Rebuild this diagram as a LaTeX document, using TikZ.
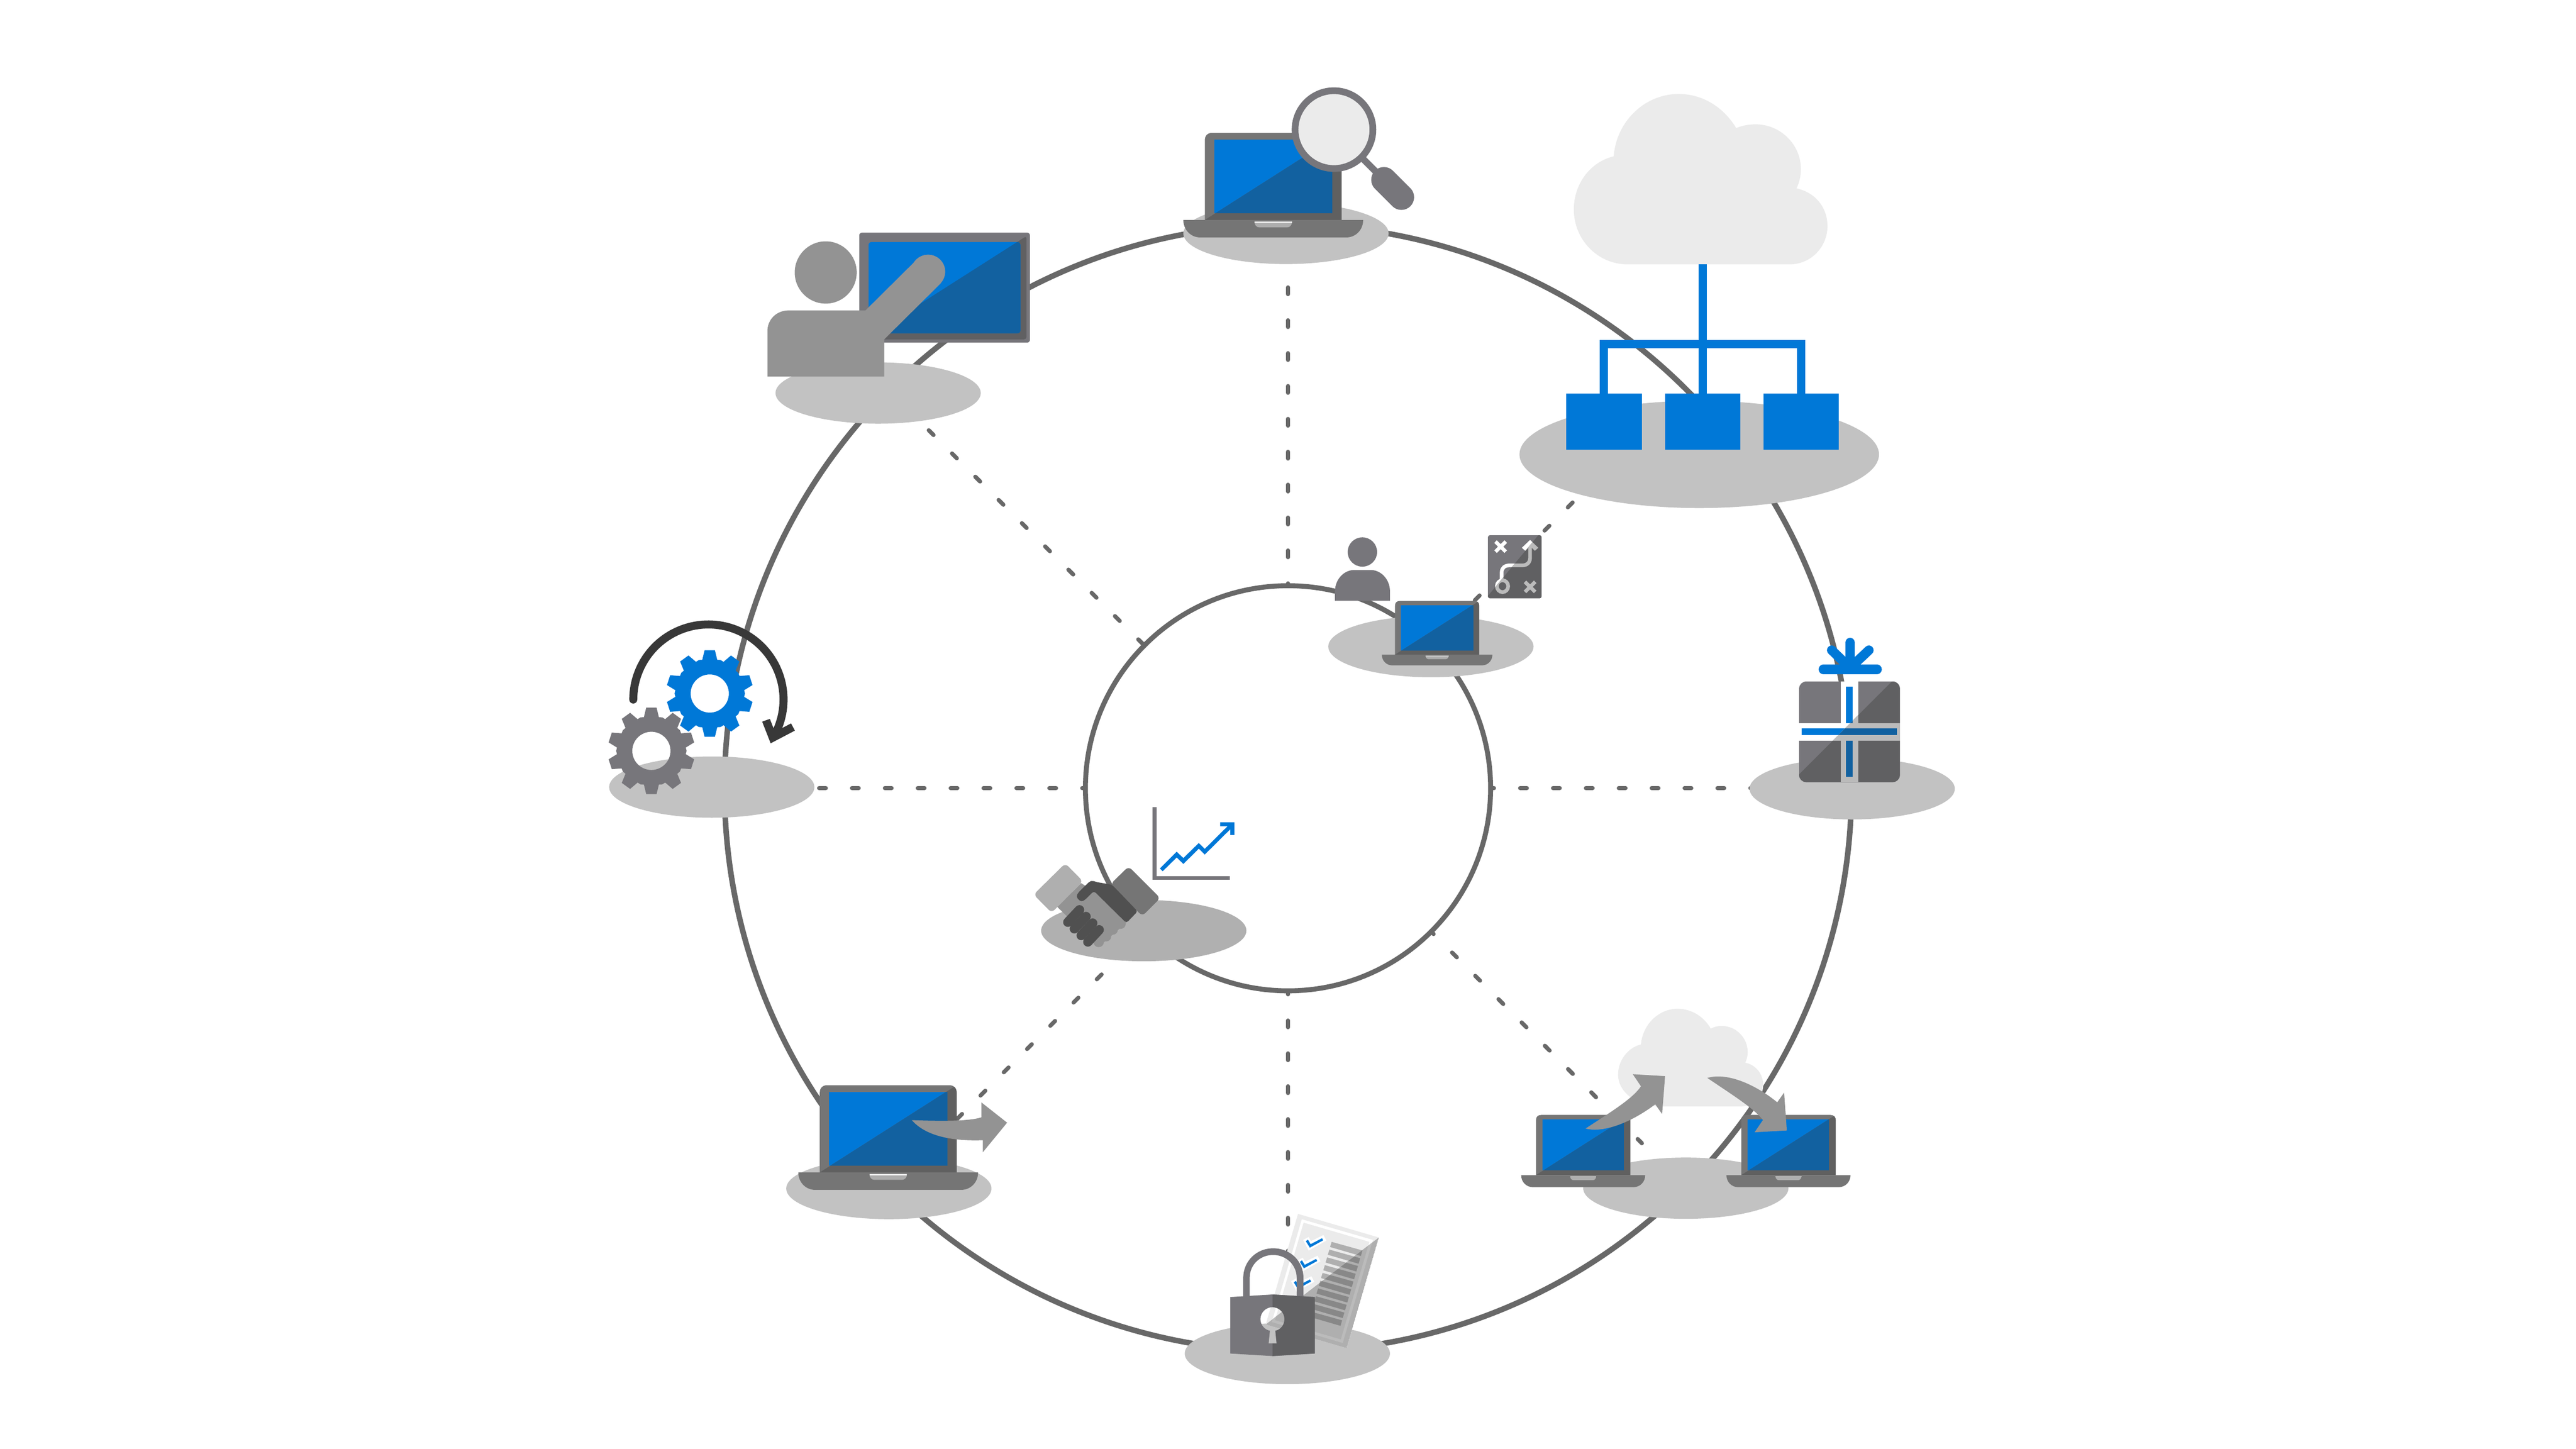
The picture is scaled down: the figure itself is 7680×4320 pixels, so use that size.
\documentclass[tikz,border=0pt]{standalone}
\usetikzlibrary{shapes.geometric}
\definecolor{ringc}{HTML}{686868}
\definecolor{disc}{HTML}{C2C2C2}
\definecolor{discd}{HTML}{B0B0B0}
\definecolor{msblue}{HTML}{0078D7}
\definecolor{msdblue}{HTML}{1261A0}
\definecolor{frameL}{HTML}{757575}
\definecolor{frameD}{HTML}{606060}
\definecolor{iconL}{HTML}{77767B}
\definecolor{iconD}{HTML}{606062}
\definecolor{pale}{HTML}{EBEBEB}
\definecolor{midg}{HTML}{939393}
\definecolor{softg}{HTML}{AFAFAF}
\definecolor{softd}{HTML}{BBBBBB}
\definecolor{barD}{HTML}{888888}
\definecolor{handD}{HTML}{505050}
\definecolor{notch}{HTML}{ADADAD}
\definecolor{arrowk}{HTML}{383838}
\tikzset{
  zm/.style n args={4}{shift={(#1,#2)},x=#3/1568*0.28453pt,y=-#4/1568*0.28453pt},
  discnode/.style={ellipse,fill=disc,draw=none,inner sep=0pt,minimum width=174.1pt,minimum height=52pt},
  ringline/.style={draw=ringc},
  dashline/.style={draw=ringc,line width=3.5pt,line cap=round,dash pattern=on 5.7pt off 22.2pt},
  dashcut/.style={dashline,dash phase=2.85pt},
}
% laptop: origin at the hinge centre; #1,#2 position, #3 xscale, #4 yscale
\newcommand{\lap}[4]{%
\begin{scope}[shift={(#1,#2)},xscale=#3,yscale=#4]
  \def\lapframe{(-204,0)--(-204,-238) .. controls (-204,-252) and (-195,-260) .. (-182,-260) -- (182,-260) .. controls (195,-260) and (204,-252) .. (204,-238) -- (204,0) -- cycle}
  \fill[frameL] \lapframe;
  \fill[msblue] (-176,-240) rectangle (176,-20);
  \begin{scope}
    \clip (-204,0) -- (204,-260) -- (204,0) -- cycle;
    \fill[frameD] \lapframe;
    \fill[msdblue] (-176,-240) rectangle (176,-20);
  \end{scope}
  \fill[frameL] (-268,0) -- (268,0) .. controls (268,30) and (245,52) .. (218,52) -- (-218,52) .. controls (-245,52) and (-268,30) .. (-268,0) -- cycle;
  \fill[notch] (-56,5) -- (56,5) .. controls (56,14) and (50,22) .. (42,22) -- (-42,22) .. controls (-50,22) and (-56,14) .. (-56,5) -- cycle;
  \fill[pale] (-56,5) rectangle (56,8.5);
\end{scope}}
\newcommand{\gearicon}[3]{%
\begin{scope}[shift={(#1,#2)}]
  \fill[#3,even odd rule] ({18-12.5}:103)
    \foreach \a in {18,54,...,342} { -- ({\a-12.5}:103) -- ({\a-6.8}:130) -- ({\a+6.8}:130) -- ({\a+12.5}:103) -- ({\a+18}:105) }
    -- cycle (0,0) circle[radius=57];
\end{scope}}
\newcommand{\giftart}[3]{%
  \fill[#1,rounded corners=6pt] (447,476) rectangle (1075,1260);
  \fill[#2] (707,476) rectangle (815,1260);
  \fill[#2] (447,800) rectangle (1075,936);
  \fill[#3] (740,517) rectangle (782,800);
  \fill[#3] (740,936) rectangle (782,1218);
  \fill[#3] (464,841) rectangle (1058,894);}
\newcommand{\mapart}[2]{%
  \fill[#1,rounded corners=1.6pt] (1051,138) rectangle (1364,702);
  \draw[#2,line width=3.1pt] (1095,195) -- (1155,285) (1155,195) -- (1095,285);
  \draw[#2,line width=3.1pt] (1267,555) -- (1327,645) (1327,555) -- (1267,645);
  \draw[#2,line width=3.1pt] (1136,594) ellipse[x radius=33,y radius=53];
  \draw[#2,line width=3.1pt] (1131,530) -- (1131,470) .. controls (1131,430) and (1150,408) .. (1175,408) -- (1250,408) .. controls (1280,408) and (1297,380) .. (1297,340) -- (1297,220);
  \fill[#2] (1297,180) -- (1345,250) -- (1325,277) -- (1297,235) -- (1269,277) -- (1249,250) -- cycle;}
\newcommand{\paperart}[4]{%
  \fill[#1] (773,182) -- (1277,366) -- (1076,1228) -- (572,1044) -- cycle;
  \fill[#2] (797,224) -- (1240,385) -- (1052,1188) -- (610,1025) -- cycle;
  \fill[#3] (808,250) -- (1218,400) -- (1040,1160) -- (630,1010) -- cycle;
  \foreach \k in {0,...,9} {
    \fill[#4] ({983-14.1*\k},{400+60.5*\k}) -- ({1175-14.1*\k},{467+60.5*\k}) -- ({1165-14.1*\k},{510+60.5*\k}) -- ({973-14.1*\k},{440+60.5*\k}) -- cycle;
  }}
\newcommand{\tickmark}[2]{%
\begin{scope}[shift={(#1,#2)}]
  \fill[white] (805,385) -- (840,362) -- (853,395) -- (932,347) -- (950,390) -- (840,468) -- cycle;
  \fill[msblue] (822,395) -- (835,383) -- (852,418) -- (923,372) -- (930,388) -- (847,445) -- cycle;
\end{scope}}
\begin{document}
\begin{tikzpicture}[x=0.28453pt,y=-0.28453pt]
\useasboundingbox (0,0) rectangle (7680,4320);
\fill[white] (0,0) rectangle (7680,4320);

% rings
\draw[ringline,line width=4.7pt] (3840,2350) circle[radius=1680];
\draw[ringline,line width=4.2pt] (3840,2350.5) circle[radius=604];

% end points of the spokes
\coordinate (wA) at (2442,2350);  \coordinate (wB) at (3236,2350);
\coordinate (eA) at (4444,2350);  \coordinate (eB) at (5240,2350);
\coordinate (nA) at (3840,857);   \coordinate (nB) at (3840,1745);
\coordinate (sA) at (3840,2955);  \coordinate (sB) at (3840,3760);
\coordinate (nwA) at (2769,1283); \coordinate (nwB) at (3408,1921);
\coordinate (seA) at (4267,2778); \coordinate (seB) at (4895,3409);
\coordinate (swA) at (2854,3336); \coordinate (swB) at (3290,2900);
\coordinate (neA) at (4397,1790); \coordinate (neB) at (4695,1492);
\draw[dashline] (wA) -- (wB);
\draw[dashcut] (eA) -- (eB);
\draw[dashline] (nA) -- (nB);
\draw[dashcut] (sA) -- (sB);
\draw[dashline] (nwA) -- (nwB);
\draw[dashcut] (seA) -- (seB);
\draw[dashline] (swA) -- (swB);
\draw[dashline] (neA) -- (neB);

% discs
\node[discnode] (dTop) at (3834,696) {};
\node[discnode] (dNW) at (2618,1172) {};
\node[discnode] (dW) at (2122,2347) {};
\node[discnode] (dE) at (5522,2352) {};
\node[discnode] (dSE) at (5026,3543) {};
\node[discnode] (dS) at (3838,4036) {};
\node[discnode] (dSW) at (2650,3544) {};
\node[discnode] (dIn) at (4266,1928) {};
\node[discnode,fill=discd] (dHand) at (3410,2775) {};
\node[discnode,minimum width=305pt,minimum height=91pt] (dBig) at (5066,1355) {};

% top laptop and magnifier
\lap{3796}{656}{1}{1}
\draw[iconL,line width=5.7pt] (4040,450) -- (4126,536);
\draw[iconL,line width=21.6pt,line cap=round] (4126,536) -- (4178,588);
\draw[iconL,fill=pale,line width=5.7pt] (3977,386.5) circle[radius=116];

% presenter
\begin{scope}[zm={2200}{650}{950}{650}]
  \fill[iconL,rounded corners=2.5pt] (597,105) rectangle (1437,897);
  \fill[iconD,rounded corners=2pt] (1420,130) -- (1420,873) -- (623,873) -- cycle;
  \fill[msblue,rounded corners=2.5pt] (643,173) rectangle (1390,830);
  \begin{scope}
    \clip (1420,130) -- (1420,873) -- (623,873) -- cycle;
    \fill[msdblue,rounded corners=2.5pt] (643,173) rectangle (1390,830);
  \end{scope}
  \fill[midg] (432,392) ellipse[x radius=152.5,y radius=224];
  \fill[midg] (145,1140) -- (145,815) .. controls (145,730) and (190,665) .. (250,665) -- (628,665) -- (883,295) -- (998,470) -- (720,873) -- (720,1140) -- cycle;
  \fill[midg] (936,386) ellipse[x radius=84,y radius=122];
\end{scope}

% gears and rotation arrow
\gearicon{2116}{2068}{msblue}
\gearicon{1942}{2239}{iconL}
\draw[arrowk,line width=6.8pt,line cap=round] plot[domain=180:384,samples=80] ({2112+224*cos(\x)},{2086+224*sin(\x)});
\begin{scope}[zm={1750}{1800}{750}{700}]
  \fill[arrowk] (1092,788) -- (1140,770) -- (1162,830) -- (1215,832) -- (1272,800) -- (1296,848) -- (1145,933) -- cycle;
\end{scope}

% inner person, laptop, map
\begin{scope}[zm={3900}{1550}{800}{522.67}]
  \fill[iconL] (317,288) ellipse[x radius=86,y radius=131];
  \fill[iconL] (157,725) -- (157,630) .. controls (160,530) and (210,449) .. (270,449) -- (365,449) .. controls (425,449) and (475,530) .. (478,630) -- (478,725) -- cycle;
  \mapart{iconL}{white}
  \begin{scope}
    \clip (1400,37) -- (1500,37) -- (1500,800) -- (1030,800) -- (1030,719) -- cycle;
    \mapart{iconD}{softd}
  \end{scope}
\end{scope}
\lap{4284.5}{1952}{0.615}{0.615}

% chart and handshake
\begin{scope}[zm={3000}{2350}{800}{550}]
  \fill[iconL] (855,160) rectangle (878,780);
  \fill[iconL] (855,747) rectangle (1305,780);
  \fill[msblue] (898,683) -- (996,541) -- (1035,595) -- (1125,467) -- (1160,517) -- (1293,325) -- (1250,325) -- (1250,291) -- (1333,291) -- (1333,398) -- (1309,398) -- (1309,350) -- (1160,565) -- (1125,515) -- (1035,645) -- (996,590) -- (914,707) -- cycle;
  % hand
  \fill[midg] (437,808) -- (512,875) -- (702,1145) -- (540,1350) -- (298,1010) -- cycle;
  \fill[midg] (668,1155) ellipse[x radius=30,y radius=42];
  \fill[midg] (622,1205) ellipse[x radius=30,y radius=42];
  \fill[midg] (583,1262) ellipse[x radius=30,y radius=42];
  \fill[midg] (540,1310) ellipse[x radius=30,y radius=42];
  % cuffs
  \fill[softg,rounded corners=3.5pt] (345,640) -- (448,792) -- (265,1060) -- (160,905) -- cycle;
  \fill[frameL,rounded corners=3.5pt] (715,666) -- (610,815) -- (795,1088) -- (900,935) -- cycle;
  % dark hand
  \fill[handD,rounded corners=2pt] (618,822) -- (520,797) -- (505,785) -- (486,795) -- (420,890) -- (408,925) -- (437,968) -- (460,950) -- (512,875) -- (702,1147) -- (768,1048) -- cycle;
  \foreach \xa/\ya/\xb/\yb in {428/1035/360/1140,466/1092/398/1196,505/1148/438/1253,543/1205/477/1308} {
    \draw[handD,line width=8pt,line cap=round] (\xa,\ya) -- (\xb,\yb);
  }
\end{scope}

% gift
\begin{scope}[zm={5150}{1850}{750}{600}]
  \draw[msblue,line width=8pt,line cap=round] (650,232) -- (765,370);
  \draw[msblue,line width=8pt,line cap=round] (882,232) -- (765,370);
  \draw[msblue,line width=8pt,line cap=round] (765,172) -- (765,370);
  \draw[msblue,line width=8pt,line cap=round] (598,381) -- (933,381);
  \giftart{iconL}{white}{msblue}
  \begin{scope}
    \clip (1100,382) -- (1200,382) -- (1200,1300) -- (400,1300) -- (400,1259) -- cycle;
    \giftart{iconD}{softd}{msdblue}
  \end{scope}
\end{scope}

% two laptops and cloud
\begin{scope}[zm={4450}{2950}{1150}{700}]
  \fill[pale] (680,782) -- (1010,782) .. controls (1060,782) and (1100,720) .. (1100,640) .. controls (1100,565) and (1070,505) .. (1027,490) .. controls (1033,470) and (1037,445) .. (1037,420) .. controls (1037,325) and (990,245) .. (932,245) .. controls (915,245) and (900,250) .. (887,263) .. controls (860,185) and (810,130) .. (752,130) .. controls (675,130) and (610,235) .. (603,368) .. controls (550,390) and (510,475) .. (510,570) .. controls (510,685) and (585,782) .. (680,782) -- cycle;
\end{scope}
\lap{4720}{3504}{0.69}{0.69}
\lap{5332}{3504}{0.69}{0.69}
\begin{scope}[zm={4450}{2950}{1150}{700}]
  \fill[midg] (378,930) .. controls (480,820) and (570,730) .. (603,648) -- (570,567) -- (701,580) -- (689,833) -- (661,768) .. controls (580,870) and (460,965) .. (378,930) -- cycle;
  \fill[midg] (873,592) .. controls (960,550) and (1080,650) .. (1157,755) -- (1185,690) -- (1196,943) -- (1065,955) -- (1099,873) .. controls (1060,790) and (960,690) .. (873,592) -- cycle;
\end{scope}

% paper and lock
\begin{scope}[zm={3500}{3550}{750}{600}]
  \paperart{pale}{white}{pale}{softg}
  \tickmark{0}{0}
  \tickmark{-37}{161}
  \tickmark{-75}{321}
  \begin{scope}
    \clip (1277,366) -- (1076,1228) -- (572,1044) -- cycle;
    \paperart{softg}{softd}{softg}{barD}
  \end{scope}
  \fill[iconL] (432,830) -- (432,680) .. controls (432,550) and (515,450) .. (618,450) .. controls (725,450) and (807,550) .. (807,680) -- (807,830) -- (765,830) -- (765,680) .. controls (765,580) and (700,502) .. (618,502) .. controls (535,502) and (472,580) .. (472,680) -- (472,830) -- cycle;
  \def\lockbody{(351,830) -- (615,810) -- (878,830) -- (878,1270) -- (615,1290) -- (351,1270) -- cycle (614,909) .. controls (655,909) and (689,950) .. (689,1002) .. controls (689,1048) and (665,1085) .. (632,1093) -- (640,1192) -- (590,1192) -- (598,1093) .. controls (565,1085) and (539,1048) .. (539,1002) .. controls (539,950) and (573,909) .. (614,909) -- cycle}
  \fill[iconL,even odd rule] \lockbody;
  \begin{scope}
    \clip (615,780) rectangle (900,1300);
    \fill[iconD,even odd rule] \lockbody;
  \end{scope}
\end{scope}

% lower-left laptop and arrow
\lap{2648}{3496}{1}{1}
\begin{scope}[zm={2300}{3150}{800}{522.67}]
  \fill[midg] (820,570) .. controls (950,578) and (1150,585) .. (1227,545) -- (1227,412) -- (1377,593) -- (1235,858) -- (1235,750) .. controls (1050,760) and (900,710) .. (820,570) -- cycle;
\end{scope}

% big cloud and hierarchy
\begin{scope}[zm={4500}{220}{1150}{1350}]
  \fill[pale] (480,660) -- (1140,660) .. controls (1225,660) and (1293,600) .. (1293,528) .. controls (1293,460) and (1240,410) .. (1167,397) .. controls (1178,378) and (1185,355) .. (1185,330) .. controls (1185,245) and (1102,175) .. (1000,175) .. controls (972,175) and (945,180) .. (922,188) .. controls (870,115) and (785,70) .. (688,70) .. controls (550,70) and (435,165) .. (424,286) .. controls (330,305) and (262,380) .. (262,470) .. controls (262,575) and (360,660) .. (480,660) -- cycle;
  \fill[msblue] (769,660) rectangle (802,1107);
  \fill[msblue] (368,922) rectangle (1203,950);
  \fill[msblue] (368,922) rectangle (401,1107);
  \fill[msblue] (1170,922) rectangle (1203,1107);
  \fill[msblue] (232,1107) rectangle (538,1302);
  \fill[msblue] (633,1107) rectangle (938,1302);
  \fill[msblue] (1034,1107) rectangle (1339,1302);
\end{scope}
\end{tikzpicture}
\end{document}
